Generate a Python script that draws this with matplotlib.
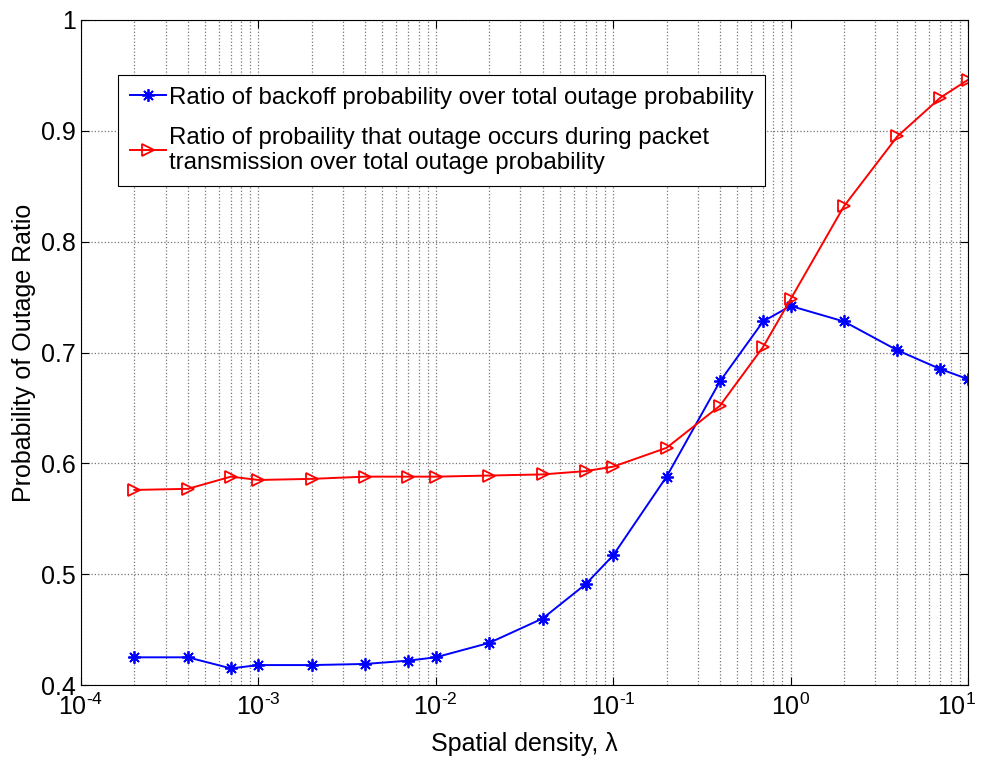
import matplotlib
matplotlib.use("Agg")
import matplotlib.pyplot as plt
import matplotlib.transforms as mtransforms
from matplotlib.ticker import LogLocator, NullFormatter

plt.rcParams['font.family'] = ['Liberation Sans', 'DejaVu Sans']
plt.rcParams['mathtext.fontset'] = 'custom'
plt.rcParams['mathtext.rm'] = 'Liberation Sans'
plt.rcParams['mathtext.it'] = 'Liberation Sans'
plt.rcParams['mathtext.default'] = 'regular'

# spatial density values
lam = [2e-4, 4e-4, 7e-4, 1e-3, 2e-3, 4e-3, 7e-3, 1e-2, 2e-2, 4e-2, 7e-2,
       0.1, 0.2, 0.4, 0.7, 1, 2, 4, 7, 10]
# backoff / total outage
backoff = [0.425, 0.425, 0.415, 0.418, 0.418, 0.419, 0.422, 0.425, 0.438, 0.460,
           0.491, 0.517, 0.588, 0.674, 0.728, 0.742, 0.728, 0.702, 0.685, 0.676]
# outage during packet tx / total outage
during_tx = [0.576, 0.577, 0.588, 0.585, 0.586, 0.588, 0.588, 0.588, 0.589, 0.590,
             0.593, 0.597, 0.614, 0.652, 0.705, 0.748, 0.832, 0.895, 0.930, 0.946]

xticks = [1e-4, 1e-3, 1e-2, 1e-1, 1, 10]
xticklabels = [r'$10^{\text{-}4}$', r'$10^{\text{-}3}$', r'$10^{\text{-}2}$',
               r'$10^{\text{-}1}$', '$10^{0}$', '$10^{1}$']
yticks = [0.4, 0.5, 0.6, 0.7, 0.8, 0.9, 1.0]
yticklabels = ['0.4', '0.5', '0.6', '0.7', '0.8', '0.9', '1']

label_b = 'Ratio of backoff probability over total outage probability'
label_t = ('Ratio of probaility that outage occurs during packet\n'
           'transmission over total outage probability')

fig = plt.figure(figsize=(9.81, 7.63), dpi=100)
ax = fig.add_axes([0.0826, 0.1022, 0.9041, 0.8716])

asterisk = (8, 2, 0)
ax.semilogx(lam, backoff, '-', marker=asterisk, color='blue', lw=1.4, ms=9, mew=1.3,
            label=label_b)
ax.semilogx(lam, during_tx, '->', color='red', lw=1.4, ms=9, mew=1.3,
            mfc='none', label=label_t)

ax.set_xlim(1e-4, 10)
ax.set_ylim(0.4, 1.0)
ax.set_xticks(xticks)
ax.set_xticklabels(xticklabels)
ax.set_yticks(yticks)
ax.set_yticklabels(yticklabels)
ax.xaxis.set_minor_locator(LogLocator(base=10, subs=range(2, 10), numticks=20))
ax.xaxis.set_minor_formatter(NullFormatter())

ax.grid(True, which='major', ls=':', color='#777777', lw=0.9)
ax.grid(True, which='minor', axis='x', ls=':', color='#777777', lw=0.9)
ax.tick_params(which='both', direction='in', top=True, right=True, labelsize=18)
ax.tick_params(which='major', length=6)
ax.tick_params(which='minor', length=0)
ax.tick_params(axis='x', pad=6)
for s in ax.spines.values():
    s.set_linewidth(0.8)

# keep the last decade label inside the figure
last = ax.get_xticklabels()[-1]
last.set_horizontalalignment('right')
last.set_transform(last.get_transform() +
                   mtransforms.ScaledTranslation(8 / 100, 0, fig.dpi_scale_trans))

ax.set_xlabel('Spatial density, λ', fontsize=18, labelpad=9)
ax.set_ylabel('Probability of Outage Ratio', fontsize=18, labelpad=4)

leg = ax.legend(loc='upper left', bbox_to_anchor=(0.042, 0.918), fontsize=17.3,
                fancybox=False, edgecolor='black', framealpha=1,
                handlelength=1.5, handletextpad=0.1, borderpad=0.5,
                labelspacing=0.75, borderaxespad=0)
leg.get_frame().set_linewidth(0.8)

fig.savefig('out.png', dpi=100)
